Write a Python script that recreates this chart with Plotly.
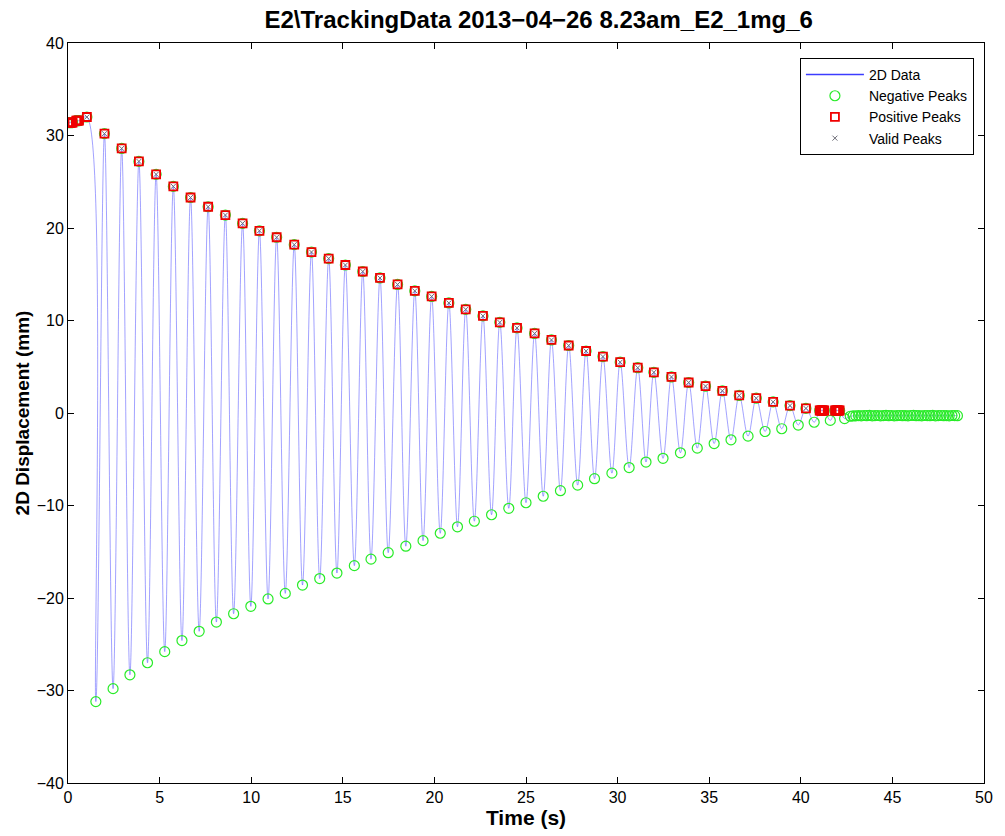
import plotly.graph_objects as go

# Valid positive peaks (time in s, displacement in mm)
pos_t = [1.03, 1.99, 2.93, 3.87, 4.81, 5.75, 6.69, 7.65, 8.59, 9.53, 10.45, 11.39,
         12.35, 13.29, 14.23, 15.14, 16.09, 17.03, 17.99, 18.93, 19.85, 20.79, 21.71,
         22.65, 23.57, 24.51, 25.47, 26.39, 27.33, 28.28, 29.20, 30.14, 31.10, 31.98,
         32.94, 33.88, 34.80, 35.72, 36.64, 37.57, 38.49, 39.41, 40.28]
pos_y = [32.0, 30.2, 28.6, 27.2, 25.8, 24.5, 23.3, 22.3, 21.4, 20.5, 19.7, 19.0,
         18.2, 17.4, 16.7, 16.0, 15.3, 14.6, 13.9, 13.2, 12.6, 11.9, 11.2,
         10.5, 9.8, 9.2, 8.6, 7.9, 7.3, 6.7, 6.1, 5.5, 4.9, 4.4,
         3.9, 3.3, 2.9, 2.4, 1.9, 1.6, 1.2, 0.8, 0.5]

# Positive peaks rejected by the validity check (small jitter on flat stretches)
rej_t = [0.0, 0.05, 0.10, 0.15, 0.20, 0.25, 0.45, 0.50, 0.55, 0.60,
         41.03, 41.08, 41.13, 41.18, 41.23, 41.28,
         41.87, 41.92, 41.97, 42.02, 42.07, 42.12]
rej_y = [31.4, 31.4, 31.4, 31.4, 31.4, 31.4, 31.6, 31.6, 31.6, 31.6,
         0.27, 0.27, 0.27, 0.27, 0.27, 0.27,
         0.27, 0.27, 0.27, 0.27, 0.27, 0.27]

# Negative peaks
neg_t = [1.52, 2.46, 3.38, 4.34, 5.28, 6.22, 7.16, 8.10, 9.04, 9.98, 10.92, 11.86,
         12.80, 13.74, 14.68, 15.63, 16.54, 17.48, 18.44, 19.38, 20.32, 21.26, 22.18,
         23.12, 24.06, 25.00, 25.94, 26.88, 27.82, 28.74, 29.69, 30.63, 31.55, 32.48,
         33.43, 34.35, 35.27, 36.19, 37.12, 38.05, 38.96, 39.86, 40.73, 41.61, 42.39]
neg_y = [-31.2, -29.8, -28.3, -27.0, -25.8, -24.6, -23.6, -22.6, -21.7, -20.9, -20.1,
         -19.5, -18.6, -17.9, -17.3, -16.5, -15.8, -15.1, -14.4, -13.8, -13.0, -12.3,
         -11.7, -11.0, -10.3, -9.7, -9.0, -8.4, -7.8, -7.1, -6.5, -5.9, -5.3, -4.9,
         -4.3, -3.8, -3.3, -2.9, -2.5, -2.0, -1.7, -1.3, -1.0, -0.8, -0.6]

# Residual jitter after the oscillation has died out
tail_t = [42.70, 42.85, 43.00, 43.15, 43.30, 43.45, 43.60, 43.75, 43.90, 44.05,
          44.20, 44.35, 44.50, 44.65, 44.80, 44.95, 45.10, 45.25, 45.40, 45.55,
          45.70, 45.85, 46.00, 46.15, 46.30, 46.45, 46.60, 46.75, 46.90, 47.05,
          47.20, 47.35, 47.50, 47.65, 47.80, 47.95, 48.10, 48.25, 48.40, 48.55]
tail_y = [-0.35, -0.32, -0.30, -0.28, -0.30, -0.27, -0.29, -0.26, -0.30, -0.28,
          -0.27, -0.30, -0.28, -0.26, -0.29, -0.27, -0.30, -0.28, -0.27, -0.29,
          -0.28, -0.30, -0.27, -0.26, -0.29, -0.28, -0.30, -0.27, -0.28, -0.29,
          -0.26, -0.30, -0.28, -0.27, -0.29, -0.28, -0.30, -0.27, -0.28, -0.29]

# Trace through all extrema in time order
line_pts = sorted(zip(rej_t + pos_t + neg_t + tail_t, rej_y + pos_y + neg_y + tail_y))
line_t = [p[0] for p in line_pts]
line_y = [p[1] for p in line_pts]

# Extremum detector output (minima plus the maxima it also flags)
det_t = neg_t + tail_t + pos_t + rej_t
det_y = neg_y + tail_y + pos_y + rej_y

FONT = "Liberation Sans, Arial, sans-serif"

fig = go.Figure()
fig.add_trace(go.Scatter(
    x=line_t, y=line_y, mode="lines", line_shape="spline",
    line=dict(color="rgba(70,70,255,0.5)", width=1), showlegend=False))
fig.add_trace(go.Scatter(
    x=[None], y=[None], mode="lines", name="2D Data",
    line=dict(color="rgb(60,60,255)", width=1.5)))
fig.add_trace(go.Scatter(
    x=det_t, y=det_y, mode="markers", name="Negative Peaks",
    marker=dict(symbol="circle-open", size=10, color="rgb(40,235,40)",
                line=dict(width=1.2, color="rgb(40,235,40)"))))
fig.add_trace(go.Scatter(
    x=pos_t + rej_t, y=pos_y + rej_y, mode="markers", name="Positive Peaks",
    marker=dict(symbol="square-open", size=8, color="rgb(240,0,0)",
                line=dict(width=1.8, color="rgb(240,0,0)"))))
fig.add_trace(go.Scatter(
    x=pos_t, y=pos_y, mode="markers", name="Valid Peaks",
    marker=dict(symbol="x-thin", size=5, color="rgb(110,110,120)",
                line=dict(width=1, color="rgb(110,110,120)"))))

axis_common = dict(
    showgrid=False, zeroline=False, showline=True, linecolor="black", linewidth=1,
    mirror="ticks", ticks="inside", ticklen=6, tickwidth=1, tickcolor="black",
    tickfont=dict(family=FONT, size=16, color="black"),
)

fig.update_layout(
    width=1005, height=836,
    margin=dict(l=68, r=15, t=43, b=52),
    paper_bgcolor="white", plot_bgcolor="white",
    title=dict(text="<b>E2\\TrackingData 2013\u221204\u221226 8.23am_E2_1mg_6</b>",
               font=dict(family=FONT, size=24, color="black"),
               x=0.536, xref="container", xanchor="center",
               y=1 - 20 / 836, yref="container", yanchor="middle"),
    xaxis=dict(range=[0, 50], dtick=5, tick0=0,
               title=dict(text="<b>Time (s)</b>", font=dict(family=FONT, size=21, color="black"),
                          standoff=3),
               **axis_common),
    yaxis=dict(range=[-40, 40], dtick=10, tick0=0,
               title=dict(text="<b>2D Displacement (mm)</b>",
                          font=dict(family=FONT, size=19, color="black"), standoff=2),
               **axis_common),
    legend=dict(x=0.989, y=0.9798, xanchor="right", yanchor="top",
                bgcolor="white", bordercolor="black", borderwidth=1,
                font=dict(family=FONT, size=14, color="black"),
                tracegroupgap=0, itemwidth=58),
)

fig.write_html("out.html")
